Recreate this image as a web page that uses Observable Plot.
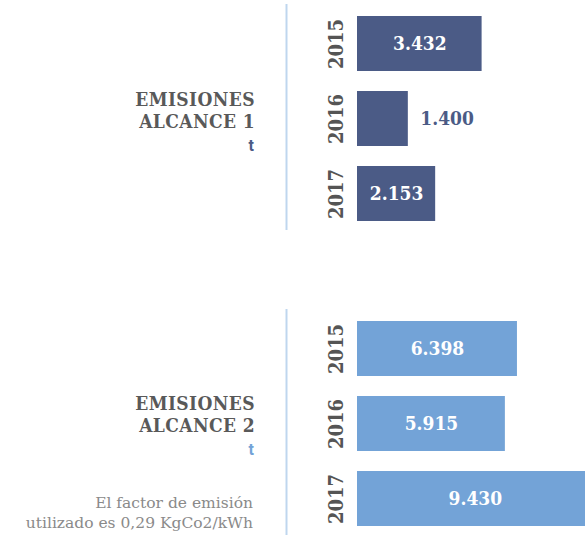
<!DOCTYPE html>
<html>
<head>
<meta charset="utf-8">
<script src="https://cdn.jsdelivr.net/npm/d3@7"></script>
<script src="https://cdn.jsdelivr.net/npm/@observablehq/plot@0.6"></script>
<style>
  html, body { margin: 0; padding: 0; background: #fff; overflow: hidden; }
  #wrap { position: relative; width: 585px; height: 537px; }
  .slab { font-family: 'DejaVu Serif Condensed', 'DejaVu Serif', serif; font-stretch: condensed; }
  .title { position: absolute; text-align: right; font-size: 19px; line-height: 22.2px; letter-spacing: 0.4px; font-weight: bold; color: #595959; white-space: nowrap; }
  .unit { position: absolute; text-align: right; font-family: Roboto, 'Noto Sans', sans-serif; font-weight: bold; font-size: 16px; line-height: 16px; }
  .note { position: absolute; text-align: right; font-family: 'DejaVu Serif', serif; font-size: 15.5px; line-height: 19.5px; color: #8a8a8a; white-space: nowrap; }
  .chart { position: absolute; left: 0; }
</style>
</head>
<body>
<div id="wrap"></div>
<script>
// ---- data ----
const years = ["2015", "2016", "2017"];
const alcance1 = [3432, 1400, 2153];
const alcance2 = [6398, 5915, 9430];
const title1 = ["EMISIONES", "ALCANCE 1"];
const title2 = ["EMISIONES", "ALCANCE 2"];
const unitLabel = "t";
const noteLines = ["El factor de emisión", "utilizado es 0,29 KgCo2/kWh"];

// ---- styles ----
const DARK = "#4b5b86";
const LIGHT = "#73a3d7";
const RULE = "#bfd6ee";
const YEAR_GREY = "#555555";
const SLAB = "'DejaVu Serif Condensed', 'DejaVu Serif', serif";

const fmt = d3.formatLocale({decimal: ",", thousands: ".", grouping: [3], currency: ["", ""]}).format(",");

const wrap = document.getElementById("wrap");

function chart(values, color, xMax, top, height, marginTop, marginBottom) {
  const data = years.map((y, i) => ({year: y, value: values[i]}));
  const inside = d => d.value / xMax > 0.3;
  const svg = Plot.plot({
    width: 585,
    height,
    marginLeft: 357,
    marginRight: 0,
    marginTop,
    marginBottom,
    style: {fontFamily: SLAB, background: "transparent", overflow: "visible"},
    x: {domain: [0, xMax], axis: null},
    y: {domain: years, axis: null, paddingInner: 0.27, paddingOuter: 0.135},
    marks: [
      Plot.ruleX([0], {stroke: RULE, strokeWidth: 2, dx: -71, insetTop: -2, insetBottom: 1}),
      Plot.barX(data, {x: "value", y: "year", fill: color}),
      Plot.text(data, {
        y: "year", text: "year", frameAnchor: "left", dx: -21, rotate: -90,
        textAnchor: "middle", fill: YEAR_GREY, fontWeight: "bold", fontSize: 20,
        fontFamily: SLAB
      }),
      Plot.text(data.filter(inside), {
        x: d => d.value / 2, y: "year", text: d => fmt(d.value),
        fill: "white", fontWeight: "bold", fontSize: 19, fontFamily: SLAB
      }),
      Plot.text(data.filter(d => !inside(d)), {
        x: "value", y: "year", text: d => fmt(d.value), dx: 12, textAnchor: "start",
        fill: color, fontWeight: "bold", fontSize: 19, fontFamily: SLAB
      })
    ]
  });
  svg.classList.add("chart");
  svg.style.top = top + "px";
  svg.style.position = "absolute";
  svg.style.left = "0px";
  svg.style.maxWidth = "none";
  wrap.appendChild(svg);
}

function label(lines, unitColor, titleTop, unitTop) {
  const t = document.createElement("div");
  t.className = "title slab";
  t.style.right = (585 - 255) + "px";
  t.style.top = titleTop + "px";
  t.innerHTML = lines.join("<br>");
  wrap.appendChild(t);
  const u = document.createElement("div");
  u.className = "unit";
  u.style.right = (585 - 254) + "px";
  u.style.top = unitTop + "px";
  u.style.color = unitColor;
  u.textContent = unitLabel;
  wrap.appendChild(u);
}

chart(alcance1, DARK, 6280, 0, 240, 6, 9);
chart(alcance2, LIGHT, 9120, 300, 237, 11, 1);

label(title1, DARK, 88, 138);
label(title2, LIGHT, 392, 442);

const note = document.createElement("div");
note.className = "note";
note.style.right = (585 - 253) + "px";
note.style.top = "494px";
note.innerHTML = noteLines.join("<br>");
wrap.appendChild(note);
</script>
</body>
</html>
